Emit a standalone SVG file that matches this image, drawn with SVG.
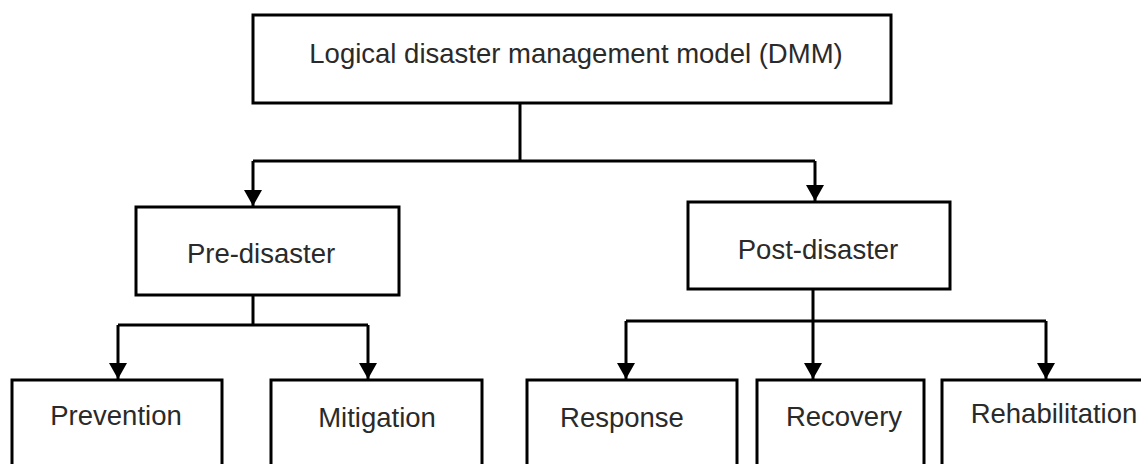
<svg xmlns="http://www.w3.org/2000/svg" width="1141" height="464" viewBox="0 0 1141 464">
<style>
.box{fill:#fff;stroke:#000;stroke-width:3}
.lbl{font-family:"Liberation Sans",Arial,sans-serif;font-size:27.5px;fill:#2a2a2a;text-anchor:middle}
.con{fill:none;stroke:#000;stroke-width:3;stroke-linejoin:round}
</style>
<defs>
<marker id="arr" markerUnits="userSpaceOnUse" markerWidth="16" markerHeight="18" viewBox="0 0 16 18" refX="16" refY="9" orient="auto">
<path d="M0,0 L16,9 L0,18 Z" fill="#000"/>
</marker>
</defs>
<rect width="1141" height="464" fill="#fff"/>
<g id="connectors">
<path class="con" d="M520,103 V161"/>
<path class="con" d="M253,161 H815"/>
<path class="con" d="M253,161 V206" marker-end="url(#arr)"/>
<path class="con" d="M815,161 V201" marker-end="url(#arr)"/>
<path class="con" d="M253,295 V325"/>
<path class="con" d="M118,325 H368"/>
<path class="con" d="M118,325 V379" marker-end="url(#arr)"/>
<path class="con" d="M368,325 V379" marker-end="url(#arr)"/>
<path class="con" d="M813,289 V379" marker-end="url(#arr)"/>
<path class="con" d="M626,321 H1046"/>
<path class="con" d="M626,321 V379" marker-end="url(#arr)"/>
<path class="con" d="M1046,321 V379" marker-end="url(#arr)"/>
</g>
<g id="dmm">
<rect class="box" x="253" y="15" width="638" height="88"/>
<text class="lbl" x="576" y="63">Logical disaster management model (DMM)</text>
</g>
<g id="pre">
<rect class="box" x="136" y="207" width="263" height="88"/>
<text class="lbl" x="261" y="263">Pre-disaster</text>
</g>
<g id="post">
<rect class="box" x="688" y="202" width="262" height="87"/>
<text class="lbl" x="818" y="259">Post-disaster</text>
</g>
<g id="prevention">
<rect class="box" x="12" y="380" width="210" height="100"/>
<text class="lbl" x="116" y="425">Prevention</text>
</g>
<g id="mitigation">
<rect class="box" x="271" y="380" width="211" height="100"/>
<text class="lbl" x="377" y="427">Mitigation</text>
</g>
<g id="response">
<rect class="box" x="527" y="380" width="210" height="100"/>
<text class="lbl" x="622" y="427">Response</text>
</g>
<g id="recovery">
<rect class="box" x="757" y="380" width="167" height="100"/>
<text class="lbl" x="844" y="426">Recovery</text>
</g>
<g id="rehabilitation">
<rect class="box" x="942" y="380" width="220" height="100"/>
<text class="lbl" x="1054" y="423">Rehabilitation</text>
</g>
</svg>
